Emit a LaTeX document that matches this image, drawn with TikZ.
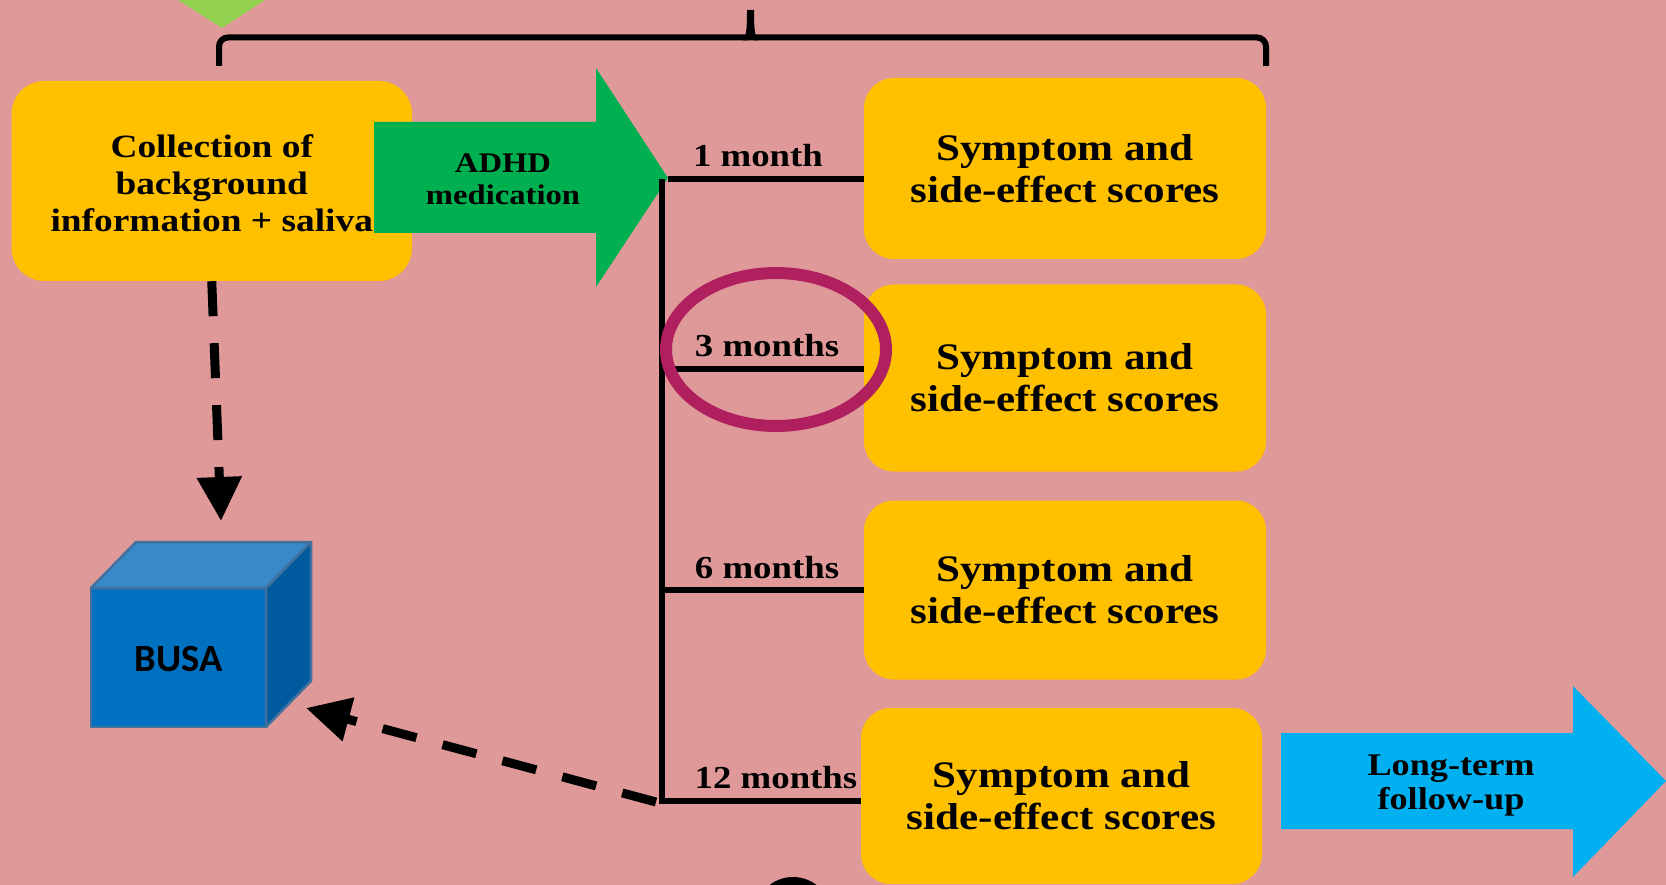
\documentclass[tikz,border=0pt]{standalone}
\usepackage{fontspec}
\setmainfont{Liberation Serif}
\newfontfamily\gf[FakeStretch=1.15]{Liberation Serif}
\newfontfamily\cf{Carlito}
\usetikzlibrary{arrows.meta}
\definecolor{bgpink}{RGB}{224,153,153}
\definecolor{boxyellow}{RGB}{255,192,0}
\definecolor{medgreen}{RGB}{0,176,80}
\definecolor{fupblue}{RGB}{0,176,240}
\definecolor{ringred}{RGB}{176,31,94}
\definecolor{trigreen}{RGB}{146,208,80}
\definecolor{cubefront}{RGB}{0,112,192}
\definecolor{cubetop}{RGB}{55,137,200}
\definecolor{cubeside}{RGB}{0,90,158}
\definecolor{cubeline}{RGB}{65,113,156}
\newcommand\symfnt{\gf\bfseries\fontsize{37.5}{42}\selectfont}
\newcommand\colfnt{\gf\bfseries\fontsize{32.5}{37}\selectfont}
\newcommand\lblfnt{\gf\bfseries\fontsize{32}{37}\selectfont}
\newcommand\medfnt{\gf\bfseries\fontsize{28.4}{32}\selectfont}
\newcommand\fupfnt{\gf\bfseries\fontsize{31.5}{34}\selectfont}
\begin{document}
\begin{tikzpicture}[x=1pt,y=-1pt,
  ybox/.style={fill=boxyellow, rounded corners=30pt, align=center, inner sep=0pt, font=\symfnt},
  lbl/.style={font=\lblfnt, inner sep=0pt, anchor=base},
  tl/.style={line width=6pt, black},
  dasharrow/.style={line width=9pt, dash pattern=on 35pt off 27pt, -{Triangle[length=44pt,width=43pt]}},
  cubeface/.style={draw=cubeline, line width=2.5pt, line join=round}]
\useasboundingbox (0,0) rectangle (1666,885);
\clip (0,0) rectangle (1666,885);
\fill[bgpink] (0,0) rectangle (1666,885);

% green triangle at top
\fill[trigreen] (178,0) -- (265,0) -- (222,28) -- cycle;

% bracket
\draw[tl, rounded corners=9pt] (219,66) -- (219,37.5) -- (748,37.5);
\draw[tl, rounded corners=9pt] (754,37.5) -- (1266,37.5) -- (1266,66);
\fill (743,40.5) .. controls (746,37) and (747,30) .. (747,10) -- (754,10) .. controls (754,30) and (755,37) .. (758,40.5) -- cycle;

% collection box
\node[ybox, rounded corners=33pt, minimum width=400.5pt, minimum height=200pt] (collect) at (211.75,181) {};
\node[font=\colfnt, align=center, inner sep=0pt] (colltxt) at (211.75,183)
  {Collection of\\background\\information + saliva};

% green medication arrow
\fill[medgreen] (374,122) -- (596,122) -- (596,68) -- (668,178) -- (596,287) -- (596,233) -- (374,233) -- cycle;
\node[font=\medfnt, align=center, inner sep=0pt] (med) at (503,179) {ADHD\\medication};
\coordinate (medtip) at (668,179);

% symptom boxes
\node[ybox, minimum width=402pt, minimum height=181pt] (s1) at (1065,168.5) {Symptom and\\side-effect scores};
\node[ybox, minimum width=402pt, minimum height=187pt] (s2) at (1065,378) {Symptom and\\side-effect scores};
\node[ybox, minimum width=402pt, minimum height=179pt] (s3) at (1065,590) {Symptom and\\side-effect scores};
\node[ybox, minimum width=401pt, minimum height=176pt] (s4) at (1061.5,796) {Symptom and\\side-effect scores};

% timeline
\coordinate (tA) at (662,179);
\coordinate (tB) at (662,369);
\coordinate (tC) at (662,590);
\coordinate (tD) at (662,801);
\draw[tl] (medtip) -- (medtip -| s1.west);
\draw[tl] (tA) -- (tD) -- (tD -| s4.west);
\draw[tl] (tB) -- (tB -| s2.west);
\draw[tl] (tC) -- (tC -| s3.west);

% labels
\node[lbl] (l1) at (758,167) {1 month};
\node[lbl] (l3) at (767,356) {3 months};
\node[lbl] (l6) at (767,578) {6 months};
\node[lbl] (l12) at (776,788) {12 months};

% blue follow-up arrow
\fill[fupblue] (1281,733) -- (1573,733) -- (1573,686) -- (1666,781) -- (1573,877) -- (1573,829) -- (1281,829) -- cycle;
\node[font=\fupfnt, align=center, inner sep=0pt] (fup) at (1451,786) {Long-term\\follow-up};

% cube BUSA
\fill[cubefront, cubeface] (91,588) rectangle (266,727);
\fill[cubetop, cubeface] (91,588) -- (136,542) -- (311,542) -- (266,588) -- cycle;
\fill[cubeside, cubeface] (266,588) -- (311,542) -- (311,681) -- (266,727) -- cycle;
\node[font=\cf\bfseries\fontsize{38.5}{44}\selectfont, inner sep=0pt] (busa) at (178.5,659) {BUSA};

% dashed arrows
\coordinate (busaIn) at (221,521);
\coordinate (cubeHit) at (306,708);
\coordinate (tStart) at (656,802);
\draw[dasharrow] (collect.south) -- (busaIn);
\draw[dasharrow] (tStart) -- (cubeHit);

% highlight ellipse
\draw[ringred, line width=12pt] (776,349.5) ellipse [x radius=110pt, y radius=76.5pt];

% black circle at bottom edge
\fill[black] (793,915.5) circle (38.5pt);
\end{tikzpicture}
\end{document}
